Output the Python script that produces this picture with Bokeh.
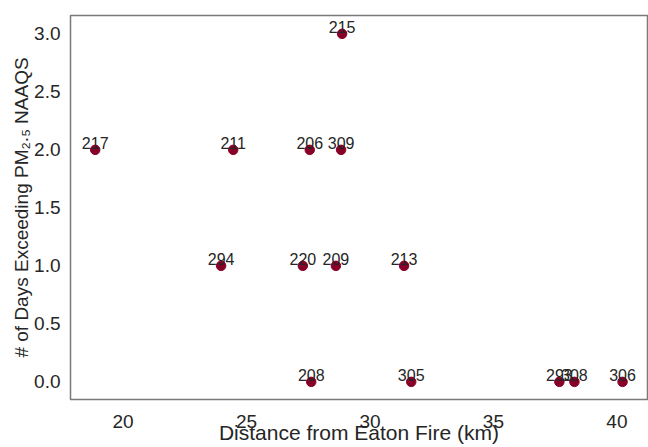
from bokeh.plotting import figure
from bokeh.models import ColumnDataSource, FixedTicker, PrintfTickFormatter, Range1d
from bokeh.core.properties import value
from bokeh.embed import file_html
from bokeh.resources import INLINE

# Monitoring sites: id, distance from the fire (km), days above the PM2.5 standard
site_ids = ["217", "211", "206", "309", "215", "294", "220", "209", "213",
            "208", "305", "293", "308", "306"]
distance_km = [18.87, 24.46, 27.56, 28.83, 28.87, 23.97, 27.28, 28.62, 31.38,
               27.62, 31.67, 37.67, 38.28, 40.23]
days_exceeding = [2, 2, 2, 2, 3, 1, 1, 1, 1, 0, 0, 0, 0, 0]

x_ticks = [20, 25, 30, 35, 40]
y_ticks = [0.0, 0.5, 1.0, 1.5, 2.0, 2.5, 3.0]

FONT = "Liberation Sans"

source = ColumnDataSource(dict(x=distance_km, y=days_exceeding, label=site_ids))

p = figure(width=648, height=447, output_backend="svg", toolbar_location=None,
           x_range=Range1d(17.87, 41.24), y_range=Range1d(-0.152, 3.158),
           min_border_left=70, min_border_right=1, min_border_top=15,
           min_border_bottom=48)

p.background_fill_color = "white"
p.border_fill_color = "white"
p.outline_line_color = "#7a7a7a"
p.outline_line_width = 1.5
p.xgrid.visible = False
p.ygrid.visible = False

p.scatter("x", "y", source=source, size=9.5, fill_color="#870027",
          line_color="#870027")
p.text("x", "y", text="label", source=source, text_align="center",
       text_baseline="bottom", y_offset=-1, text_font=value(FONT),
       text_font_size="16px", text_color="#262626")

for ax in (p.xaxis[0], p.yaxis[0]):
    ax.axis_line_color = None
    ax.major_tick_line_color = None
    ax.minor_tick_line_color = None
    ax.major_label_text_font = FONT
    ax.major_label_text_font_size = "19px"
    ax.major_label_text_color = "#262626"
    ax.axis_label_text_font = FONT
    ax.axis_label_text_font_style = "normal"
    ax.axis_label_text_color = "#262626"

p.xaxis.axis_label_text_font_size = "21px"
p.yaxis.axis_label_text_font_size = "19px"

p.xaxis.ticker = FixedTicker(ticks=x_ticks)
p.yaxis.ticker = FixedTicker(ticks=y_ticks)
p.yaxis.formatter = PrintfTickFormatter(format="%.1f")
p.xaxis.major_label_standoff = 9
p.yaxis.major_label_standoff = 4
p.xaxis.axis_label_standoff = -10
p.yaxis.axis_label_standoff = -1
p.xaxis.axis_label = "Distance from Eaton Fire (km)"
p.yaxis.axis_label = "# of Days Exceeding PM\u2082.\u2085 NAAQS"

open("out.html", "w").write(file_html(p, INLINE))
